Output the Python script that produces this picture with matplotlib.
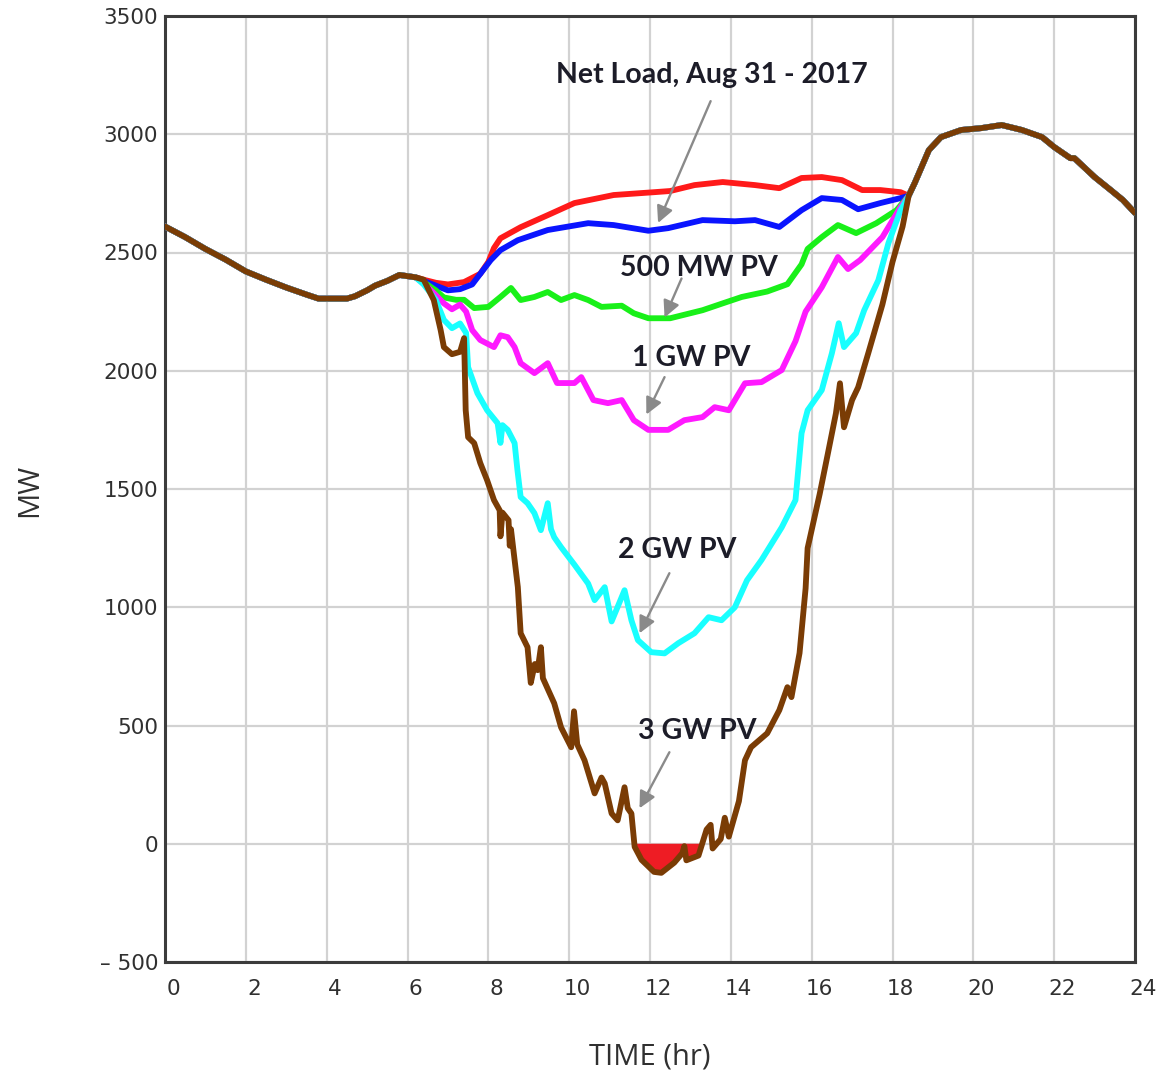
import matplotlib
matplotlib.use("Agg")
import matplotlib.pyplot as plt
import matplotlib.transforms as mtransforms
import numpy as np

# ---------------- data ----------------
# shared early-morning part of every curve (hours, MW)
morning_h = [0, 0.5, 1, 1.5, 2, 2.5, 3, 3.5, 3.8, 4, 4.5, 4.7, 5, 5.2, 5.5, 5.8, 6.0, 6.2]
morning_mw = [2610, 2565, 2515, 2470, 2420, 2385, 2352, 2322, 2305, 2305, 2305, 2315, 2340, 2360, 2380, 2405, 2400, 2395]

# shared evening part of every curve
evening_h = [18.4, 18.55, 18.9, 19.2, 19.7, 20.2, 20.7, 21.2, 21.7, 22.0, 22.4, 22.5, 23.0, 23.4, 23.7, 24.0]
evening_mw = [2740, 2794, 2933, 2988, 3018, 3026, 3039, 3018, 2988, 2946, 2899, 2899, 2819, 2764, 2722, 2667]

# Net load, Aug 31 2017 (red)
net_h = [6.4, 6.7, 7.0, 7.4, 7.8, 8.0, 8.14, 8.3, 8.8, 9.47, 10.13, 11.1, 12.1, 12.5, 13.1, 13.8,
         14.6, 15.2, 15.75, 16.25, 16.75, 17.25, 17.7, 18.2]
net_mw = [2385, 2372, 2365, 2375, 2410, 2460, 2519, 2560, 2607, 2658, 2709, 2743, 2755, 2760, 2785, 2798,
          2785, 2772, 2815, 2819, 2806, 2764, 2764, 2755]

# blue
blue_h = [6.4, 6.7, 7.0, 7.3, 7.6, 8.06, 8.3, 8.73, 9.47, 10.47, 11.1, 11.96, 12.45, 13.3, 14.1, 14.6,
          15.2, 15.75, 16.25, 16.75, 17.15, 17.7, 18.2]
blue_mw = [2380, 2360, 2340, 2345, 2365, 2468, 2510, 2552, 2595, 2624, 2616, 2592, 2603, 2637, 2632, 2637,
           2608, 2679, 2730, 2722, 2683, 2709, 2730]

# 500 MW PV (green)
pv500_h = [6.4, 6.7, 6.9, 7.2, 7.4, 7.65, 8.0, 8.3, 8.56, 8.8, 9.14, 9.47, 9.8, 10.13, 10.47, 10.8,
           11.3, 11.6, 11.96, 12.5, 13.3, 13.8, 14.27, 14.9, 15.4, 15.75, 15.9, 16.25, 16.65, 17.1,
           17.6, 18.1]
pv500_mw = [2375, 2340, 2310, 2300, 2300, 2265, 2270, 2312, 2350, 2299, 2312, 2333, 2299, 2320, 2299, 2270,
            2275, 2243, 2222, 2222, 2256, 2285, 2312, 2335, 2366, 2450, 2515, 2565, 2616, 2582,
            2624, 2679]

# 1 GW PV (magenta)
pv1_h = [6.4, 6.7, 6.9, 7.1, 7.3, 7.45, 7.6, 7.8, 8.14, 8.3, 8.48, 8.65, 8.8, 9.14, 9.47, 9.7, 10.13,
         10.3, 10.6, 10.96, 11.3, 11.6, 11.96, 12.45, 12.85, 13.3, 13.6, 13.95, 14.35, 14.76, 15.26,
         15.6, 15.85, 16.25, 16.65, 16.9, 17.2, 17.75, 18.2]
pv1_mw = [2370, 2320, 2285, 2260, 2280, 2250, 2172, 2130, 2100, 2150, 2142, 2100, 2032, 1990, 2032, 1948, 1948,
          1973, 1876, 1863, 1876, 1791, 1750, 1750, 1791, 1804, 1846, 1833, 1947, 1952, 2003,
          2125, 2250, 2353, 2481, 2430, 2468, 2565, 2692]

# 2 GW PV (cyan)
pv2_h = [6.4, 6.7, 6.9, 7.1, 7.3, 7.45, 7.5, 7.73, 7.97, 8.23, 8.3, 8.35, 8.48, 8.65, 8.72, 8.8, 8.97,
         9.14, 9.3, 9.47, 9.55, 9.63, 9.8, 10.13, 10.47, 10.63, 10.88, 11.05, 11.37, 11.54, 11.7,
         12.03, 12.36, 12.7, 13.1, 13.45, 13.77, 14.1, 14.4, 14.76, 15.26, 15.6, 15.75, 15.9, 16.25,
         16.5, 16.67, 16.8, 17.1, 17.3, 17.65, 17.9, 18.2]
pv2_mw = [2365, 2300, 2215, 2180, 2200, 2160, 2015, 1905, 1833, 1778, 1695, 1770, 1750, 1694, 1580, 1466, 1440,
          1398, 1326, 1440, 1330, 1296, 1254, 1180, 1100, 1030, 1085, 940, 1072, 945, 861,
          810, 805, 848, 890, 958, 945, 1000, 1114, 1200, 1338, 1453, 1736, 1833, 1918,
          2074, 2201, 2100, 2159, 2256, 2383, 2540, 2679]

# 3 GW PV (brown)
pv3_h = [6.4, 6.65, 6.82, 6.9, 7.1, 7.3, 7.4, 7.44, 7.5, 7.65, 7.8, 7.97, 8.14, 8.28, 8.3, 8.35, 8.5,
         8.53, 8.56, 8.65, 8.73, 8.8, 8.97, 9.05, 9.15, 9.22, 9.3, 9.35, 9.63, 9.8, 10.05, 10.12, 10.2,
         10.38, 10.63, 10.8, 10.88, 11.05, 11.2, 11.37, 11.45, 11.54, 11.62, 11.79, 12.1, 12.28, 12.6,
         12.8, 12.85, 12.9, 13.2, 13.4, 13.5, 13.55, 13.75, 13.85, 13.95, 14.2, 14.35, 14.5, 14.9,
         15.2, 15.4, 15.5, 15.7, 15.85, 15.9, 16.2, 16.4, 16.6, 16.7, 16.8, 17.0, 17.15, 17.4, 17.75,
         18.0, 18.25]
pv3_mw = [2385, 2299, 2172, 2100, 2070, 2080, 2138, 1833, 1719, 1694, 1610, 1537, 1453, 1410, 1300, 1400, 1368,
          1260, 1330, 1200, 1085, 890, 831, 680, 760, 734, 831, 700, 594, 492, 408, 560, 420,
          353, 213, 280, 255, 128, 99, 239, 150, 128, -13, -68, -119, -123, -80,
          -40, -10, -70, -50, 60, 80, -20, 20, 110, 30, 180, 353, 408, 467,
          565, 662, 620, 806, 1080, 1250, 1480, 1649, 1820, 1947, 1761, 1876, 1930, 2074, 2280,
          2460, 2610]

xticks = [0, 2, 4, 6, 8, 10, 12, 14, 16, 18, 20, 22, 24]
yticks = [-500, 0, 500, 1000, 1500, 2000, 2500, 3000, 3500]
ytick_labels = ["\u2013 500", "0", "500", "1000", "1500", "2000", "2500", "3000", "3500"]

series = [
    (net_h, net_mw, "#ff1a1a"),
    (blue_h, blue_mw, "#0a14ff"),
    (pv500_h, pv500_mw, "#19f019"),
    (pv1_h, pv1_mw, "#ff19ff"),
    (pv2_h, pv2_mw, "#19ffff"),
    (pv3_h, pv3_mw, "#7a3c05"),
]

# ---------------- figure ----------------
fig = plt.figure(figsize=(11.6, 10.78), dpi=100)
ax = fig.add_axes([165 / 1160, 1 - 962 / 1078, 970 / 1160, 946 / 1078])

for h, mw, col in series:
    x = np.array(morning_h + h + evening_h)
    y = np.array(morning_mw + mw + evening_mw)
    ax.plot(x, y, color=col, lw=4.2, solid_joinstyle="round", solid_capstyle="round", zorder=3)

# negative-load region of the 3 GW case
x3 = np.array(pv3_h)
y3 = np.array(pv3_mw)
ax.fill_between(x3, y3, 0, where=(y3 < 0), interpolate=True, color="#ee1c24", lw=0, zorder=2.5)

ax.set_xlim(0, 24)
ax.set_ylim(-500, 3500)
ax.set_xticks(xticks)
ax.set_yticks(yticks)
ax.set_yticklabels(ytick_labels)
ax.grid(True, color="#d2d2d2", lw=1.6, zorder=0)
ax.set_axisbelow(True)
for s in ax.spines.values():
    s.set_color("#3c3c3c")
    s.set_linewidth(2.2)
ax.tick_params(length=0, labelsize=15.5, labelcolor="#303030")
ax.tick_params(axis="x", pad=12)
ax.tick_params(axis="y", pad=5)
for lab in ax.get_xticklabels() + ax.get_yticklabels():
    lab.set_family("DejaVu Sans")
off = mtransforms.ScaledTranslation(8 / 100, 0, fig.dpi_scale_trans)
for lab in ax.get_xticklabels():
    lab.set_transform(lab.get_transform() + off)

fig.text(30 / 1160, 1 - 490 / 1078, "MW", rotation=90, ha="center", va="center",
         fontsize=21, family="Open Sans", color="#303030")
fig.text(650 / 1160, 1 - 1057 / 1078, "TIME (hr)", ha="center", va="center",
         fontsize=21, family="Open Sans", color="#303030")

arrow_kw = dict(arrowstyle="-|>,head_length=1.0,head_width=0.5", color="#8a8a8a", lw=1.7,
                shrinkA=0, shrinkB=0)
txt_kw = dict(fontsize=20.5, fontweight="bold", family="Lato", color="#1c1c28", ha="center", va="center",
              zorder=5)

ax.text(13.52, 3250, "Net Load, Aug 31 - 2017", **txt_kw)
ax.annotate("", xy=(12.2, 2625), xytext=(13.5, 3140), arrowprops=arrow_kw, zorder=5)

ax.text(13.2, 2434, "500 MW PV", **txt_kw)
ax.annotate("", xy=(12.36, 2225), xytext=(12.78, 2390), arrowprops=arrow_kw, zorder=5)

ax.text(13.03, 2053, "1 GW PV", **txt_kw)
ax.annotate("", xy=(11.91, 1815), xytext=(12.36, 1973), arrowprops=arrow_kw, zorder=5)

ax.text(12.68, 1241, "2 GW PV", **txt_kw)
ax.annotate("", xy=(11.74, 890), xytext=(12.48, 1144), arrowprops=arrow_kw, zorder=5)

ax.text(13.18, 475, "3 GW PV", **txt_kw)
ax.annotate("", xy=(11.74, 150), xytext=(12.48, 387), arrowprops=arrow_kw, zorder=5)

fig.savefig("out.png", dpi=100)
